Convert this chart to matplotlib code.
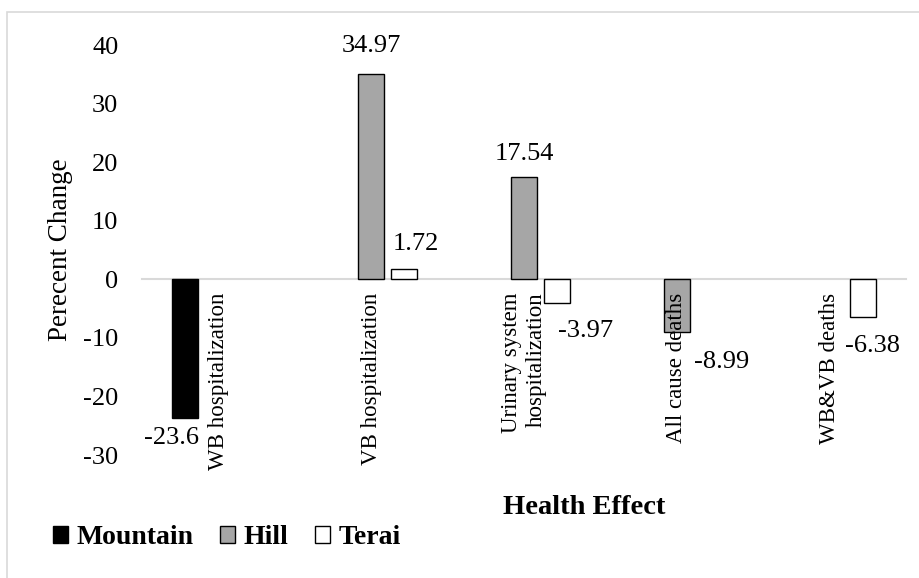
import numpy as np
import matplotlib
matplotlib.use("Agg")
import matplotlib.pyplot as plt
from matplotlib.patches import Rectangle

plt.rcParams['font.family'] = ['Liberation Serif', 'DejaVu Serif']
plt.rcParams['axes.unicode_minus'] = False

# donnees
categories = ["WB hospitalization", "VB hospitalization",
              "Urinary system\nhospitalization", "All cause deaths",
              "WB&VB deaths"]
mountain = [-23.6, np.nan, np.nan, np.nan, np.nan]
hill = [np.nan, 34.97, 17.54, -8.99, np.nan]
terai = [np.nan, 1.72, -3.97, np.nan, -6.38]
series_names = ["Mountain", "Hill", "Terai"]
yticks = [-30, -20, -10, 0, 10, 20, 30, 40]

# decalage des etiquettes (en pixels) par serie et categorie
lab_off = {0: [(-14, -20)] * 5,
           1: [(0, 28), (0, 28), (0, 23), (45, -30), (0, 0)],
           2: [(0, 0), (12, 25), (29, -28), (0, 0), (10, -29)]}

fig = plt.figure(figsize=(9.2, 5.78), dpi=100)
ax = fig.add_axes([142/920, 1-455/578, 764/920, 410/578])

x = np.arange(len(categories))
w = 0.17
d = 0.216
colors = ["black", "#a6a6a6", "white"]
handles = []
for k, vals in enumerate([mountain, hill, terai]):
    b = ax.bar(x + (k-1)*d, vals, w, color=colors[k], edgecolor="black",
               linewidth=1.0, label=series_names[k], zorder=1)
    handles.append(b)
    for i, v in enumerate(vals):
        if np.isnan(v):
            continue
        dx, dy = lab_off[k][i]
        txt = "%g" % v
        ax.annotate(txt, (x[i] + (k-1)*d, v), xytext=(dx*0.72, dy*0.72),
                    textcoords="offset points", ha="center", va="center",
                    fontsize=19)

ax.set_xlim(-0.5, len(categories)-0.5)
ax.set_ylim(-30, 40)
ax.set_yticks(yticks)
ax.tick_params(axis="y", length=0, pad=17, labelsize=19)

# axe des x sur la ligne zero
for s in ["top", "right", "left"]:
    ax.spines[s].set_visible(False)
ax.spines["bottom"].set_position(("data", 0))
ax.spines["bottom"].set_color("#d9d9d9")
ax.spines["bottom"].set_linewidth(1.5)
ax.spines["bottom"].set_zorder(0.5)
ax.set_xticks(x)
ax.set_xticklabels(categories, rotation=90, ha="center", va="top",
                   multialignment="right", fontsize=16.5, linespacing=1.25)
ax.tick_params(axis="x", length=0, pad=9.5)

ax.set_ylabel("Perecent Change", fontsize=19.5)
ax.yaxis.set_label_coords(-0.09, 0.5)

fig.text(584/920, 1-507/578, "Health Effect", ha="center", va="center",
         fontsize=20.5, fontweight="bold")

fig.legend(handles=handles, loc="center left",
           bbox_to_anchor=(53/920, 1-538/578), ncol=3, frameon=False,
           prop={"weight": "bold", "size": 20}, handlelength=0.55,
           handleheight=0.55, handletextpad=0.3, columnspacing=0.95,
           borderpad=0, borderaxespad=0)

# cadre gris
fig.patches.append(Rectangle((7/920, -0.1), 2, 1-12/578+0.1,
                             transform=fig.transFigure, fill=False,
                             edgecolor="#d9d9d9", linewidth=1.2))

plt.savefig("out.png", dpi=100)
